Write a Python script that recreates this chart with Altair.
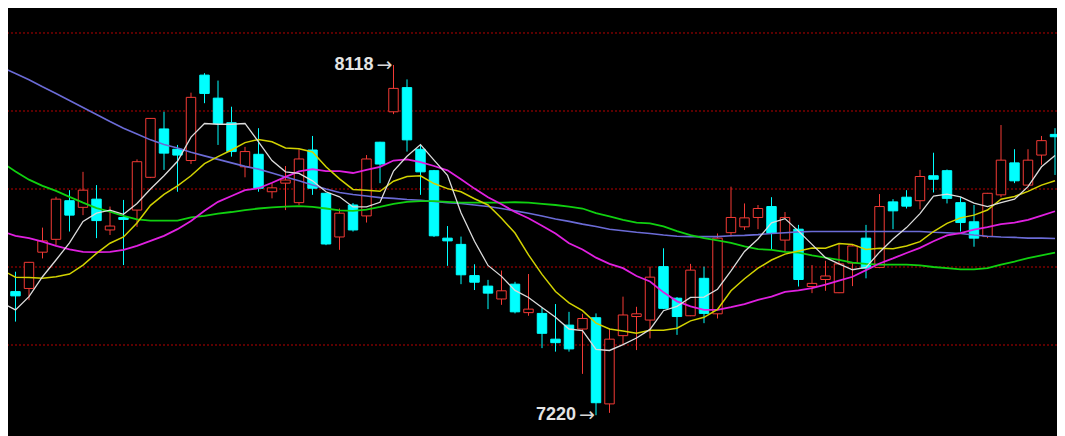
import altair as alt
import pandas as pd

# ---- candle data (index 0..78) ----
opens = [7482, 7537, 7545, 7638, 7671, 7770, 7753, 7774, 7695, 7727,
         7746, 7830, 7954, 7902, 7873, 8092, 8033, 7970, 7857, 7889,
         7793, 7815, 7765, 7900, 7789, 7677, 7759, 7731, 7920, 7998,
         8060, 7902, 7847, 7674, 7658, 7578, 7551, 7518, 7556, 7483,
         7481, 7415, 7451, 7441, 7470, 7249, 7424, 7473, 7464, 7601,
         7520, 7475, 7571, 7480, 7688, 7703, 7727, 7755, 7669, 7697,
         7550, 7568, 7534, 7610, 7674, 7599, 7767, 7779, 7770, 7834,
         7847, 7765, 7716, 7678, 7785, 7867, 7810, 7887, 7940]
closes = [7513, 7526, 7612, 7667, 7774, 7733, 7797, 7719, 7705, 7722,
          7870, 7981, 7892, 7887, 8035, 8045, 7968, 7896, 7896, 7802,
          7803, 7823, 7877, 7802, 7659, 7738, 7695, 7877, 7864, 8058,
          7926, 7844, 7680, 7667, 7580, 7561, 7533, 7539, 7485, 7492,
          7430, 7406, 7390, 7468, 7252, 7415, 7477, 7480, 7574, 7494,
          7473, 7592, 7481, 7674, 7727, 7726, 7750, 7686, 7727, 7568,
          7558, 7577, 7608, 7654, 7597, 7755, 7744, 7756, 7832, 7825,
          7776, 7714, 7674, 7789, 7874, 7821, 7874, 7924, 7934]
highs = [7618, 7588, 7613, 7701, 7780, 7797, 7844, 7810, 7755, 7772,
         7876, 7982, 7998, 7913, 8047, 8097, 8078, 8011, 7908, 7956,
         7815, 7859, 7902, 7936, 7790, 7750, 7764, 7887, 7921, 8118,
         8081, 7913, 7849, 7705, 7678, 7607, 7567, 7591, 7562, 7582,
         7495, 7505, 7485, 7480, 7481, 7443, 7524, 7498, 7601, 7648,
         7523, 7608, 7601, 7686, 7806, 7763, 7759, 7779, 7741, 7708,
         7605, 7616, 7659, 7659, 7708, 7787, 7774, 7797, 7849, 7893,
         7850, 7779, 7759, 7790, 7964, 7902, 7902, 7936, 7956]
lows = [7464, 7460, 7515, 7622, 7656, 7691, 7733, 7674, 7682, 7605,
        7703, 7828, 7849, 7793, 7864, 8020, 7913, 7883, 7830, 7793,
        7776, 7746, 7759, 7785, 7656, 7644, 7691, 7714, 7815, 7992,
        7896, 7785, 7677, 7603, 7556, 7541, 7492, 7503, 7481, 7475,
        7392, 7383, 7383, 7326, 7220, 7226, 7400, 7387, 7417, 7492,
        7426, 7474, 7456, 7468, 7678, 7695, 7697, 7644, 7639, 7550,
        7533, 7539, 7533, 7551, 7571, 7597, 7697, 7750, 7748, 7791,
        7763, 7691, 7652, 7674, 7779, 7815, 7810, 7862, 7836]

# ---- moving-average lines ----
ma_white = [7508, 7490, 7524, 7575, 7618, 7662, 7717, 7738, 7746, 7735,
            7763, 7800, 7834, 7871, 7933, 7968, 7966, 7966, 7968, 7921,
            7873, 7844, 7840, 7821, 7793, 7780, 7754, 7754, 7766, 7846,
            7884, 7914, 7874, 7835, 7739, 7666, 7604, 7576, 7540, 7522,
            7496, 7471, 7441, 7437, 7389, 7386, 7401, 7418, 7440, 7488,
            7499, 7522, 7523, 7543, 7590, 7640, 7672, 7713, 7724, 7692,
            7658, 7624, 7608, 7593, 7599, 7638, 7672, 7701, 7737, 7782,
            7787, 7780, 7764, 7755, 7765, 7774, 7806, 7857, 7886]
ma_yellow = [7592, 7574, 7573, 7571, 7575, 7582, 7605, 7635, 7661, 7677,
             7713, 7758, 7786, 7808, 7834, 7865, 7883, 7900, 7919, 7927,
             7921, 7905, 7903, 7895, 7857, 7826, 7799, 7797, 7794, 7820,
             7832, 7834, 7814, 7801, 7793, 7775, 7759, 7725, 7687, 7631,
             7581, 7537, 7508, 7488, 7456, 7441, 7436, 7430, 7438, 7438,
             7443, 7462, 7471, 7491, 7539, 7570, 7597, 7618, 7633, 7641,
             7649, 7648, 7660, 7658, 7645, 7648, 7647, 7654, 7665, 7691,
             7712, 7726, 7733, 7746, 7774, 7781, 7794, 7810, 7821]
ma_magenta = [7691, 7680, 7674, 7665, 7654, 7645, 7639, 7638, 7639, 7644,
              7654, 7667, 7680, 7697, 7718, 7744, 7767, 7782, 7797, 7802,
              7816, 7831, 7845, 7851, 7846, 7846, 7841, 7849, 7857, 7873,
              7876, 7869, 7859, 7848, 7825, 7801, 7779, 7761, 7741, 7725,
              7706, 7686, 7661, 7645, 7624, 7608, 7597, 7577, 7563, 7535,
              7512, 7499, 7490, 7490, 7497, 7505, 7516, 7524, 7536, 7540,
              7546, 7555, 7565, 7575, 7592, 7609, 7622, 7636, 7649, 7666,
              7681, 7687, 7696, 7702, 7710, 7714, 7721, 7732, 7743]
ma_green = [7868, 7845, 7824, 7808, 7795, 7780, 7765, 7751, 7742, 7731,
            7722, 7719, 7719, 7719, 7727, 7731, 7737, 7741, 7746, 7750,
            7753, 7755, 7756, 7754, 7750, 7745, 7744, 7747, 7754, 7762,
            7767, 7769, 7769, 7767, 7765, 7765, 7765, 7765, 7766, 7765,
            7762, 7759, 7755, 7750, 7738, 7730, 7721, 7714, 7712, 7704,
            7692, 7682, 7674, 7668, 7662, 7653, 7646, 7644, 7639, 7637,
            7630, 7624, 7618, 7611, 7608, 7606, 7606, 7606, 7604, 7600,
            7597, 7594, 7594, 7597, 7606, 7614, 7623, 7630, 7637]
ma_blue = [8112, 8096, 8080, 8062, 8045, 8027, 8009, 7991, 7973, 7956,
           7941, 7926, 7914, 7905, 7894, 7885, 7876, 7867, 7858, 7851,
           7841, 7831, 7821, 7810, 7800, 7791, 7786, 7782, 7778, 7776,
           7773, 7771, 7768, 7765, 7763, 7759, 7755, 7750, 7744, 7738,
           7731, 7723, 7717, 7710, 7704, 7697, 7693, 7689, 7686, 7682,
           7679, 7678, 7678, 7678, 7680, 7681, 7683, 7686, 7688, 7690,
           7691, 7691, 7691, 7691, 7691, 7691, 7691, 7691, 7691, 7689,
           7688, 7686, 7682, 7679, 7677, 7676, 7674, 7674, 7673]

grid_prices = [7400, 7600, 7800, 8000, 8200]
note_labels = ["8118", "7220"]
note_index = [29, 44]
note_price = [8118, 7220]

RED = "#f23a35"
CYAN = "#00ffff"
BG = "#000000"

n = len(opens)
df = pd.DataFrame({"i": list(range(n)), "open": opens, "close": closes,
                   "high": highs, "low": lows})
df["dir"] = ["up" if c >= o else "down" for o, c in zip(opens, closes)]

xs = alt.Scale(domain=[0.4444, 78.148], nice=False, zero=False)
ys = alt.Scale(domain=[7166.7, 8264.1], nice=False, zero=False)
X = lambda f: alt.X(f, type="quantitative", scale=xs, axis=None)
Y = lambda f: alt.Y(f, type="quantitative", scale=ys, axis=None)
dir_stroke = alt.Color("dir:N", scale=alt.Scale(domain=["up", "down"], range=[RED, CYAN]), legend=None)

grid = alt.Chart(pd.DataFrame({"p": grid_prices})).mark_rule(
    color="#b80000", strokeWidth=1, strokeDash=[2, 2]
).encode(y=Y("p"))

wicks = alt.Chart(df).mark_rule(strokeWidth=1, clip=True).encode(
    x=X("i"), y=Y("low"), y2="high", color=dir_stroke)

bodies = alt.Chart(df).transform_calculate(
    xa="datum.i - 0.35", xb="datum.i + 0.35"
).mark_rect(strokeWidth=1, clip=True).encode(
    x=X("xa"), x2="xb", y=Y("open"), y2="close",
    fill=alt.Fill("dir:N", scale=alt.Scale(domain=["up", "down"], range=[BG, CYAN]), legend=None),
    stroke=alt.Stroke("dir:N", scale=alt.Scale(domain=["up", "down"], range=[RED, CYAN]), legend=None),
)

def ma_layer(vals, color, w):
    d = pd.DataFrame({"i": list(range(len(vals))), "v": vals})
    return alt.Chart(d).mark_line(color=color, strokeWidth=w, clip=True).encode(
        x=X("i"), y=Y("v"))

lines = [
    ma_layer(ma_blue, "#6b6bd6", 1.6),
    ma_layer(ma_green, "#10d010", 1.8),
    ma_layer(ma_magenta, "#e020e0", 1.8),
    ma_layer(ma_yellow, "#d2d200", 1.5),
    ma_layer(ma_white, "#dcdcdc", 1.3),
]

notes = pd.DataFrame({"i": note_index, "p": note_price, "t": note_labels, "a": ["→", "→"]})
note_num = alt.Chart(notes).mark_text(
    align="right", baseline="middle", dx=-20, fontSize=18, fontWeight="bold",
    font="Liberation Sans", color="#e4e4e4"
).encode(x=X("i"), y=Y("p"), text="t:N")
note_arrow = alt.Chart(notes).mark_text(
    align="right", baseline="middle", dx=-1, fontSize=19,
    font="DejaVu Sans", color="#d8d8d8"
).encode(x=X("i"), y=Y("p"), text="a:N")

chart = alt.layer(grid, wicks, bodies, *lines, note_num, note_arrow).properties(
    width=1049, height=428, background=BG, padding=0,
    autosize=alt.AutoSizeParams(type="none"),
).configure_view(stroke=None, fill=BG)

chart.save("out.html", embed_options={"renderer": "svg", "actions": False})
